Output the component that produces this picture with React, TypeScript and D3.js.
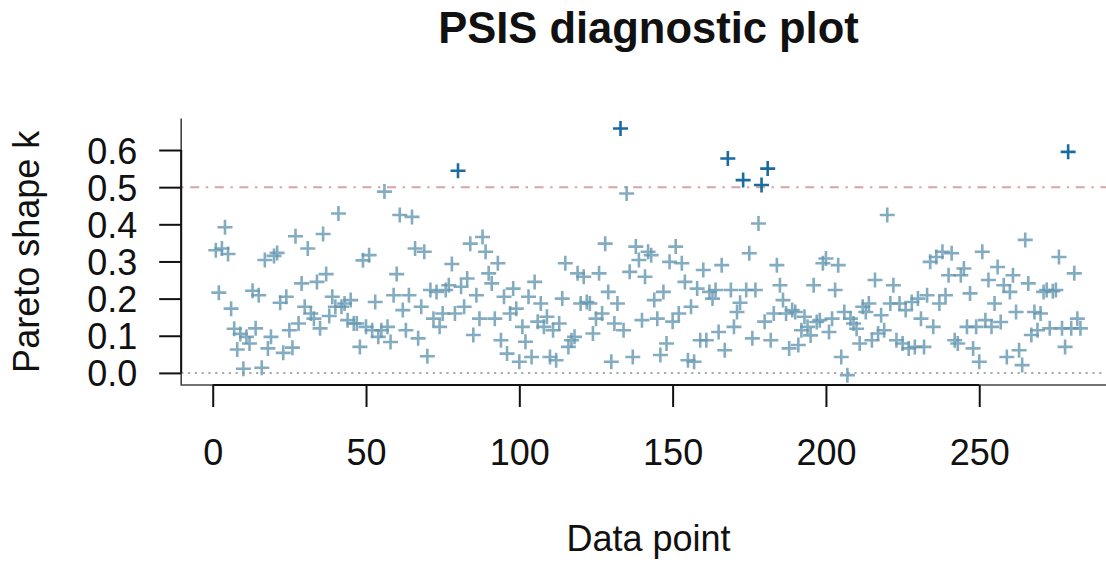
import { useEffect, useRef } from "react";
import * as d3 from "d3";

// Pareto k estimates, one per data point (1..n)
const kValues = [
  0.330, 0.216, 0.335, 0.392, 0.320, 0.173, 0.119, 0.063, 0.105, 0.011,
  0.097, 0.079, 0.221, 0.120, 0.209, 0.014, 0.304, 0.066, 0.097, 0.315,
  0.323, 0.189, 0.054, 0.205, 0.115, 0.068, 0.368, 0.133, 0.241, 0.178,
  0.335, 0.160, 0.146, 0.245, 0.120, 0.374, 0.266, 0.153, 0.205, 0.178,
  0.429, 0.178, 0.187, 0.142, 0.196, 0.133, 0.133, 0.070, 0.303, 0.124,
  0.317, 0.115, 0.191, 0.097, 0.115, 0.488, 0.124, 0.083, 0.209, 0.266,
  0.425, 0.169, 0.115, 0.209, 0.420, 0.335, 0.093, 0.178, 0.326, 0.045,
  0.223, 0.146, 0.218, 0.124, 0.160, 0.223, 0.236, 0.293, 0.160, 0.544,
  0.232, 0.178, 0.254, 0.348, 0.102, 0.209, 0.146, 0.366, 0.326, 0.268,
  0.241, 0.146, 0.295, 0.088, 0.205, 0.052, 0.160, 0.227, 0.173, 0.030,
  0.124, 0.084, 0.205, 0.043, 0.245, 0.138, 0.187, 0.124, 0.151, 0.043,
  0.115, 0.034, 0.133, 0.200, 0.295, 0.070, 0.088, 0.097, 0.268, 0.187,
  0.259, 0.191, 0.187, 0.106, 0.146, 0.268, 0.160, 0.348, 0.218, 0.030,
  0.133, 0.187, 0.658, 0.115, 0.483, 0.272, 0.043, 0.340, 0.304, 0.142,
  0.259, 0.326, 0.317, 0.196, 0.146, 0.048, 0.218, 0.079, 0.299, 0.138,
  0.340, 0.160, 0.295, 0.245, 0.034, 0.178, 0.030, 0.227, 0.088, 0.277,
  0.088, 0.218, 0.200, 0.223, 0.110, 0.290, 0.061, 0.577, 0.223, 0.124,
  0.164, 0.189, 0.519, 0.223, 0.322, 0.093, 0.223, 0.402, 0.506, 0.138,
  0.550, 0.088, 0.160, 0.290, 0.236, 0.196, 0.160, 0.066, 0.169, 0.164,
  0.075, 0.115, 0.151, 0.124, 0.101, 0.236, 0.137, 0.142, 0.295, 0.308,
  0.110, 0.146, 0.223, 0.290, 0.043, 0.164, -0.006, 0.146, 0.133, 0.119,
  0.079, 0.178, 0.164, 0.187, 0.088, 0.250, 0.106, 0.155, 0.115, 0.425,
  0.187, 0.236, 0.088, 0.187, 0.079, 0.169, 0.066, 0.191, 0.070, 0.200,
  0.146, 0.070, 0.209, 0.299, 0.124, 0.312, 0.187, 0.326, 0.209, 0.263,
  0.322, 0.088, 0.079, 0.263, 0.281, 0.124, 0.214, 0.066, 0.124, 0.030,
  0.326, 0.142, 0.250, 0.124, 0.187, 0.285, 0.137, 0.236, 0.043, 0.218,
  0.263, 0.164, 0.061, 0.021, 0.358, 0.241, 0.102, 0.164, 0.115, 0.160,
  0.218, 0.223, 0.120, 0.220, 0.223, 0.312, 0.120, 0.070, 0.595, 0.120,
  0.268, 0.146, 0.120,
];

const xTicks = [0, 50, 100, 150, 200, 250];
const yTicks = [0, 0.1, 0.2, 0.3, 0.4, 0.5, 0.6];
const hLines = [0, 0.5];

const W = 1106;
const H = 563;
const FONT = "'Liberation Sans', Arial, Helvetica, sans-serif";

export default function App() {
  const svgRef = useRef<SVGSVGElement | null>(null);

  useEffect(() => {
    const svg = d3.select(svgRef.current);
    svg.selectAll("*").remove();

    const n = kValues.length;
    const plot = { left: 181.2, right: 1115, top: 118.6, bottom: 385 };

    // R-style 4% padding on both axes
    const xPad = 0.04 * (n - 1);
    const x = d3
      .scaleLinear()
      .domain([1 - xPad, n + xPad])
      .range([plot.left, plot.right]);

    const [kMin, kMax] = d3.extent(kValues) as [number, number];
    const yPad = 0.04 * (kMax - kMin);
    const y = d3
      .scaleLinear()
      .domain([kMin - yPad, kMax + yPad])
      .range([plot.bottom, plot.top]);

    // reference lines
    svg
      .selectAll("line.h")
      .data(hLines)
      .join("line")
      .attr("x1", plot.left)
      .attr("x2", W)
      .attr("y1", (d) => y(d))
      .attr("y2", (d) => y(d))
      .attr("stroke", (d) => (d === 0 ? "#aaaaaa" : "#d6a5a5"))
      .attr("stroke-width", 2)
      .attr("stroke-dasharray", (d) => (d === 0 ? "2.2,4.6" : "2.4,6.6,9,6.6"));

    // points
    const arm = 7.5;
    svg
      .append("g")
      .selectAll("path")
      .data(kValues)
      .join("path")
      .attr("transform", (d, i) => `translate(${x(i + 1)},${y(d)})`)
      .attr("d", `M${-arm},0H${arm}M0,${-arm}V${arm}`)
      .attr("fill", "none")
      .attr("stroke", (d) => (d > 0.5 ? "#005b96" : "#6497b1"))
      .attr("stroke-opacity", (d) => (d > 0.5 ? 0.9 : 0.8))
      .attr("stroke-width", 2.6);

    // L-shaped box
    svg
      .append("path")
      .attr("d", `M${plot.left},${plot.top}V${plot.bottom}H${plot.right}`)
      .attr("fill", "none")
      .attr("stroke", "#444")
      .attr("stroke-width", 1.6);

    // x axis
    const xAxis = svg
      .append("g")
      .attr("transform", `translate(0,${plot.bottom})`)
      .call(
        d3
          .axisBottom(x)
          .tickValues(xTicks)
          .tickSize(22)
          .tickPadding(8)
          .tickFormat(d3.format("d"))
      );
    xAxis.select(".domain").attr("d", `M${x(xTicks[0])},0H${x(xTicks[xTicks.length - 1])}`);
    xAxis.selectAll("line, .domain").attr("stroke", "#111").attr("stroke-width", 2);
    xAxis
      .selectAll("text")
      .attr("y", null)
      .attr("dy", null)
      .attr("transform", "translate(0,79.5)")
      .attr("font-family", FONT)
      .attr("font-size", 36)
      .attr("fill", "#111");

    // y axis
    const yAxis = svg
      .append("g")
      .attr("transform", `translate(${plot.left},0)`)
      .call(
        d3
          .axisLeft(y)
          .tickValues(yTicks)
          .tickSize(22)
          .tickFormat(d3.format(".1f"))
      );
    yAxis.select(".domain").attr("d", `M0,${y(yTicks[0])}V${y(yTicks[yTicks.length - 1])}`);
    yAxis.selectAll("line, .domain").attr("stroke", "#111").attr("stroke-width", 2);
    yAxis
      .selectAll("text")
      .attr("x", -44)
      .attr("dy", null)
      .attr("y", 13)
      .attr("font-family", FONT)
      .attr("font-size", 36)
      .attr("fill", "#111");

    // titles
    svg
      .append("text")
      .attr("x", 648.5)
      .attr("y", 42.5)
      .attr("text-anchor", "middle")
      .attr("font-family", FONT)
      .attr("font-weight", "bold")
      .attr("font-size", 43.5)
      .attr("fill", "#111")
      .text("PSIS diagnostic plot");

    svg
      .append("text")
      .attr("x", 648.5)
      .attr("y", 551)
      .attr("text-anchor", "middle")
      .attr("font-family", FONT)
      .attr("font-size", 36)
      .attr("fill", "#111")
      .text("Data point");

    svg
      .append("text")
      .attr("transform", `translate(38.5,${(plot.top + plot.bottom) / 2}) rotate(-90)`)
      .attr("text-anchor", "middle")
      .attr("font-family", FONT)
      .attr("font-size", 36)
      .attr("fill", "#111")
      .text("Pareto shape k");
  }, []);

  return (
    <svg
      ref={svgRef}
      width={W}
      height={H}
      style={{ position: "absolute", left: 0, top: 0, background: "#fff" }}
      role="img"
      aria-label="PSIS diagnostic plot"
    ></svg>
  );
}
